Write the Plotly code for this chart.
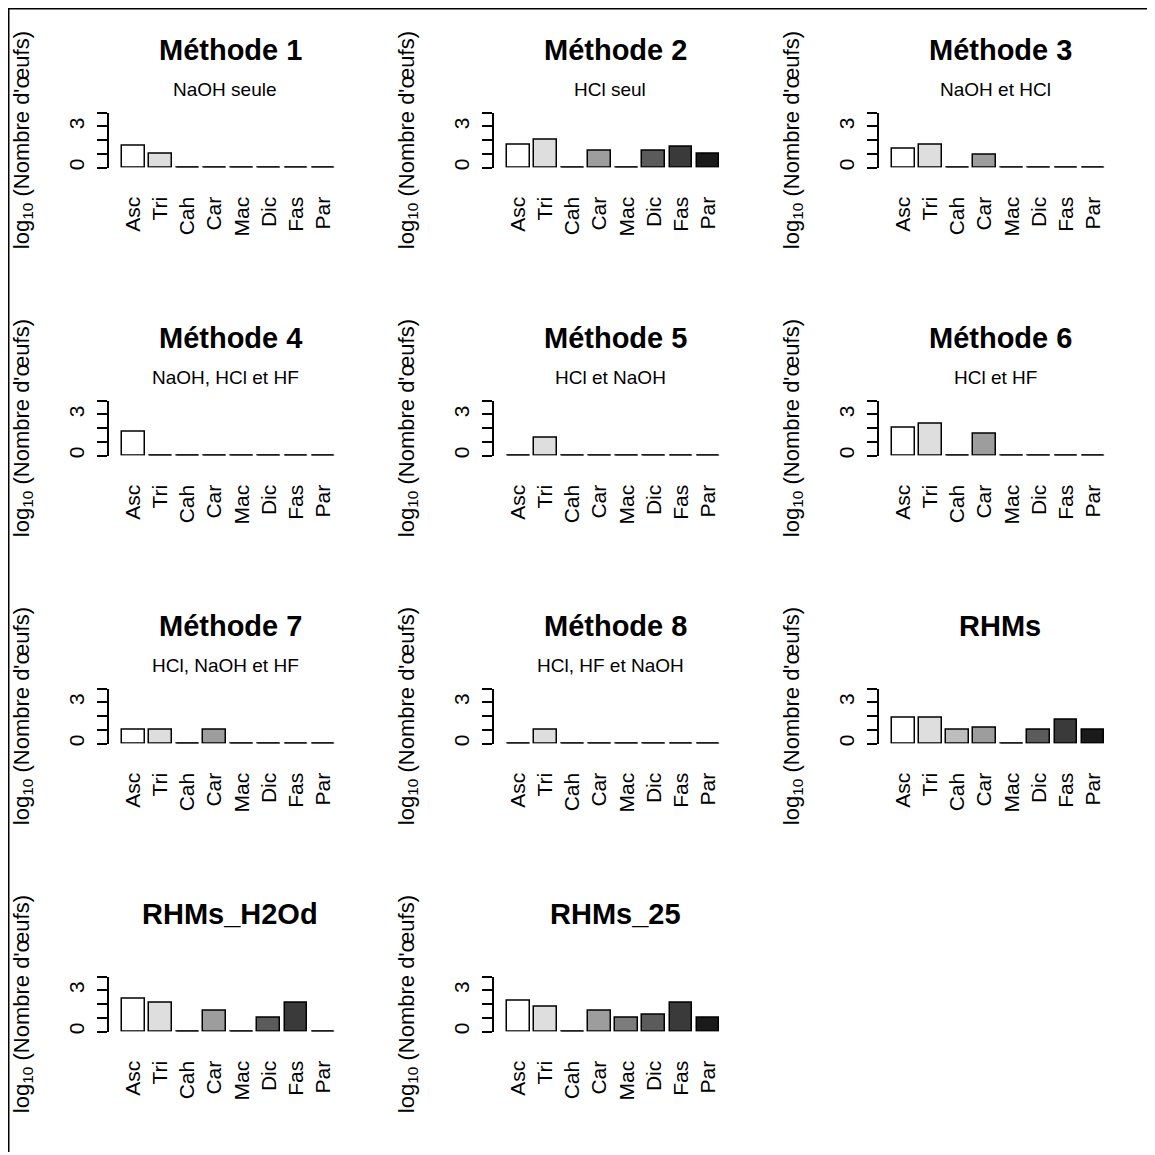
import plotly.graph_objects as go

# Data
categories = ["Asc", "Tri", "Cah", "Car", "Mac", "Dic", "Fas", "Par"]
bar_colors = ["#FFFFFF", "#DEDEDE", "#BDBDBD", "#9D9D9D", "#7C7C7C", "#5B5B5B", "#3A3A3A", "#1A1A1A"]

titles = ["Méthode 1", "Méthode 2", "Méthode 3", "Méthode 4", "Méthode 5", "Méthode 6",
          "Méthode 7", "Méthode 8", "RHMs", "RHMs_H2Od", "RHMs_25"]
subtitles = ["NaOH seule", "HCl seul", "NaOH et HCl", "NaOH, HCl et HF", "HCl et NaOH",
             "HCl et HF", "HCl, NaOH et HF", "HCl, HF et NaOH", "", "", ""]

m1 = [1.6, 1.0, 0, 0, 0, 0, 0, 0]
m2 = [1.7, 2.0, 0, 1.25, 0, 1.25, 1.55, 1.0]
m3 = [1.4, 1.7, 0, 0.95, 0, 0, 0, 0]
m4 = [1.75, 0, 0, 0, 0, 0, 0, 0]
m5 = [0, 1.3, 0, 0, 0, 0, 0, 0]
m6 = [2.05, 2.35, 0, 1.6, 0, 0, 0, 0]
m7 = [1.0, 1.0, 0, 1.0, 0, 0, 0, 0]
m8 = [0, 1.0, 0, 0, 0, 0, 0, 0]
rhms = [1.9, 1.9, 1.0, 1.15, 0, 1.0, 1.75, 1.0]
rhms_h2od = [2.4, 2.1, 0, 1.5, 0, 1.0, 2.1, 0]
rhms_25 = [2.25, 1.8, 0, 1.5, 1.0, 1.25, 2.1, 1.0]
series = [m1, m2, m3, m4, m5, m6, m7, m8, rhms, rhms_h2od, rhms_25]

y_ticks = [0, 1, 2, 3, 4]
y_ticktext = ["0", "", "", "3", ""]

# barplot geometry (R style: width 1, space 0.2)
mids = [0.7 + 1.2 * i for i in range(len(categories))]

# page has an 8px body margin, so the figure starts at (8, 8)
OFF = 8
W = H = 1147
FONT = "Liberation Sans, Arial, Helvetica, sans-serif"


def px(x):
    return (x - OFF) / W


def py(y):
    return 1 - (y - OFF) / H


fig = go.Figure()
annotations = []
shapes = []

for k, vals in enumerate(series):
    r, c = divmod(k, 3)
    n = "" if k == 0 else str(k + 1)
    xa, ya = "x" + n, "y" + n
    col = 385 * c
    row = 288.75 * r
    left = 109 + col
    right = 342.8 + col
    top = 113 + row
    bot = 168 + row

    fig.add_trace(go.Bar(x=mids, y=vals, width=1.0, xaxis=xa, yaxis=ya,
                         marker=dict(color=bar_colors, line=dict(color="black", width=1.5)),
                         cliponaxis=False, showlegend=False, hoverinfo="skip"))
    # zero-height bars drawn as flat lines like R does
    for m, v in zip(mids, vals):
        if v == 0:
            fig.add_trace(go.Scatter(x=[m - 0.5, m + 0.5], y=[0, 0], mode="lines",
                                     line=dict(color="black", width=2.2),
                                     xaxis=xa, yaxis=ya, cliponaxis=False,
                                     showlegend=False, hoverinfo="skip"))

    fig.layout["xaxis" + n] = dict(
        domain=[px(left), px(right)], anchor=ya, range=[-0.384, 9.984],
        tickvals=mids, ticktext=categories, tickangle=-90, ticks="",
        showline=False, showgrid=False, zeroline=False,
        tickfont=dict(family=FONT, size=21, color="black"), ticklabelstandoff=24)
    fig.layout["yaxis" + n] = dict(
        domain=[py(bot), py(top)], anchor=xa, range=[0, 4],
        tickvals=y_ticks, ticktext=y_ticktext, tickangle=-90,
        ticks="outside", ticklen=10, tickwidth=1.5, tickcolor="black",
        showline=True, linecolor="black", linewidth=1.5,
        showgrid=False, zeroline=False,
        tickfont=dict(family=FONT, size=21, color="black"), ticklabelstandoff=5)

    annotations.append(dict(text="<b>" + titles[k] + "</b>", x=px(230 + col), y=py(50 + row),
                            xref="paper", yref="paper", xanchor="center", yanchor="middle",
                            showarrow=False, font=dict(family=FONT, size=29, color="black")))
    if subtitles[k]:
        annotations.append(dict(text=subtitles[k], x=px(225 + col), y=py(90 + row),
                                xref="paper", yref="paper", xanchor="center", yanchor="middle",
                                showarrow=False, font=dict(family=FONT, size=19, color="black")))
    annotations.append(dict(text="log<sub>10</sub> (Nombre d'œufs)", textangle=-90,
                            x=px(23 + col), y=py((top + bot) / 2),
                            xref="paper", yref="paper", xanchor="center", yanchor="middle",
                            showarrow=False, font=dict(family=FONT, size=22, color="black")))

# outer frame (top and left edges visible)
shapes.append(dict(type="line", xref="paper", yref="paper", x0=0, x1=1, y0=1, y1=1,
                   line=dict(color="black", width=3)))
shapes.append(dict(type="line", xref="paper", yref="paper", x0=0, x1=0, y0=0, y1=1,
                   line=dict(color="black", width=3)))

fig.update_layout(width=W, height=H, margin=dict(l=0, r=0, t=0, b=0),
                  plot_bgcolor="white", paper_bgcolor="white",
                  annotations=annotations, shapes=shapes, bargap=0)

fig.write_html("out.html")
